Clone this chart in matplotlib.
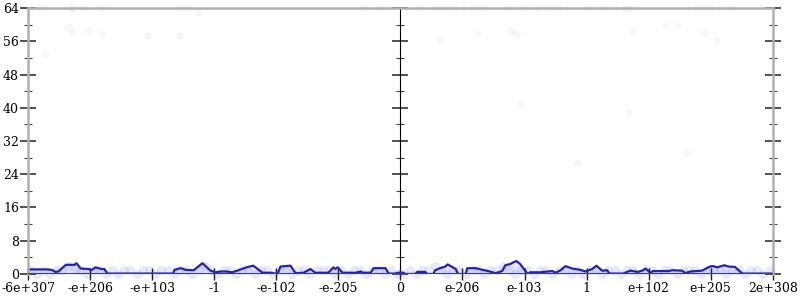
import matplotlib.pyplot as plt

plt.rcParams['font.family'] = ['DejaVu Serif']

# x positions are in "tick units": each labelled tick is one unit apart, 0 in the middle
tick_pos = [-6, -5, -4, -3, -2, -1, 0, 1, 2, 3, 4, 5, 6]
tick_labels = ['-6e+307', '-e+206', '-e+103', '-1', '-e-102', '-e-205', '0',
               'e-206', 'e-103', '1', 'e+102', 'e+205', '2e+308']

# smoothed count line (x in tick units, y in counts)
line_x = [-6.00, -5.67, -5.60, -5.56, -5.51, -5.39, -5.25, -5.22, -5.15, -5.02,
          -4.98, -4.91, -4.86, -4.83, -4.77, -4.72, -3.66, -3.64, -3.54, -3.46,
          -3.33, -3.19, -3.06, -2.98, -2.90, -2.80, -2.71, -2.61, -2.48, -2.37,
          -2.22, -2.09, -1.98, -1.93, -1.77, -1.69, -1.56, -1.45, -1.37, -1.16,
          -1.08, -1.05, -1.01, -0.93, -0.72, -0.64, -0.60, -0.48, -0.43, -0.24,
          -0.19, -0.08, -0.05, 0.05, 0.08, 0.24, 0.27, 0.40, 0.43, 0.53,
          0.56, 0.64, 0.72, 0.76, 0.81, 0.89, 0.93, 1.05, 1.08, 1.21,
          1.32, 1.42, 1.53, 1.64, 1.69, 1.77, 1.82, 1.87, 1.93, 2.05,
          2.09, 2.25, 2.30, 2.45, 2.50, 2.58, 2.66, 2.77, 2.90, 2.98,
          3.09, 3.16, 3.25, 3.33, 3.37, 3.59, 3.70, 3.83, 3.91, 3.95,
          4.03, 4.07, 4.32, 4.38, 4.54, 4.59, 4.67, 4.86, 4.91, 4.99,
          5.04, 5.10, 5.22, 5.28, 5.39, 5.51, 6.00]
line_y = [1.1, 1.1, 0.9, 0.5, 0.6, 2.2, 2.2, 2.6, 1.3, 1.2,
          0.9, 1.6, 1.4, 1.2, 1.2, 0.1, 0.1, 1.0, 1.4, 1.0,
          0.9, 2.6, 0.8, 0.4, 0.6, 0.6, 0.4, 0.9, 1.6, 2.0,
          0.3, 0.3, 0.0, 1.8, 2.0, 0.2, 0.3, 1.2, 0.3, 0.3,
          1.6, 1.2, 1.6, 0.3, 0.3, 0.6, 0.3, 0.3, 1.4, 1.4,
          0.1, 0.1, 0.3, 0.3, 0.0, 0.0, 0.5, 0.5, 0.0, 0.0,
          0.9, 1.4, 1.75, 2.3, 1.9, 1.2, 0.0, 0.0, 1.4, 1.4,
          1.0, 0.7, 0.2, 0.7, 2.1, 2.4, 2.8, 3.1, 2.4, 0.0,
          0.4, 0.4, 0.5, 0.7, 0.3, 0.9, 1.9, 1.3, 1.0, 0.6,
          1.2, 2.0, 0.8, 0.9, 0.1, 0.1, 0.8, 0.5, 0.9, 1.3,
          0.3, 0.7, 0.7, 0.9, 0.8, 0.2, 0.6, 0.8, 1.2, 1.8,
          1.9, 1.6, 2.1, 1.8, 1.7, 0.1, 0.1]

# faint sample points, upper part of the chart
top_x = [-5.80, -5.72, -5.35, -5.29, -5.31, -5.26, -5.14, -5.03, -4.83, -4.80,
         -3.56, -3.56, -3.42, -3.24, -0.60, -0.29, 0.32, 0.61, 0.77, 0.88,
         1.16, 1.34, 1.77, 1.98, 2.22, 2.37, 2.56, 3.05, 3.32, 3.60,
         3.70, 4.76, 5.00, 5.29, 0.63, 1.24, 1.79, 1.87, 3.74, 4.28,
         4.46, 4.89, 5.08, 1.95, 3.67, 2.85, 4.62, -4.06]
top_y = [64, 52.9, 59.4, 58.2, 64, 64, 64, 58.8, 64, 57.7,
         64, 57.2, 64, 63, 64, 64, 64, 64, 64, 64,
         64, 64, 64, 64, 64, 64, 64, 64, 64, 64,
         64, 64, 64, 64, 56.3, 57.7, 58.7, 57.7, 58.4, 59.6,
         59.6, 57.9, 56.3, 40.8, 38.9, 26.7, 29.0, 57.5]

# faint sample points, dense band near zero
band_x = [-5.95, -5.85, -5.75, -5.65, -5.55, -5.45, -5.35, -5.25, -5.15, -5.05,
          -4.95, -4.85, -4.75, -4.65, -4.55, -4.45, -4.35, -4.25, -4.15, -4.05,
          -3.95, -3.85, -3.75, -3.65, -3.55, -3.45, -3.35, -3.25, -3.15, -3.05,
          -2.95, -2.85, -2.75, -2.65, -2.55, -2.45, -2.35, -2.25, -2.15, -2.05,
          -1.95, -1.85, -1.75, -1.65, -1.55, -1.45, -1.35, -1.25, -1.15, -1.05,
          -0.95, -0.85, -0.75, -0.65, -0.55, -0.45, -0.35, -0.25, -0.15, -0.05,
          0.05, 0.15, 0.25, 0.35, 0.45, 0.55, 0.65, 0.75, 0.85, 0.95,
          1.05, 1.15, 1.25, 1.35, 1.45, 1.55, 1.65, 1.75, 1.85, 1.95,
          2.05, 2.15, 2.25, 2.35, 2.45, 2.55, 2.65, 2.75, 2.85, 2.95,
          3.05, 3.15, 3.25, 3.35, 3.45, 3.55, 3.65, 3.75, 3.85, 3.95,
          4.05, 4.15, 4.25, 4.35, 4.45, 4.55, 4.65, 4.75, 4.85, 4.95,
          5.05, 5.15, 5.25, 5.35, 5.45, 5.55, 5.65, 5.75, 5.85, 5.95]
band_y = [1, 0, 1, 0, 1, 1, 2, 1, 1, 0,
          1, 1, 0, 1, 0, 1, 1, 0, 1, 1,
          0, 1, 1, 0, 1, 1, 0, 1, 2, 1,
          0, 1, 1, 0, 1, 1, 0, 1, 1, 0,
          1, 1, 0, 1, 1, 0, 1, 1, 1, 0,
          1, 0, 1, 1, 0, 1, 1, 0, 1, 0,
          0, 1, 0, 1, 1, 2, 1, 0, 1, 1,
          0, 1, 1, 0, 1, 1, 2, 1, 0, 1,
          1, 0, 1, 1, 0, 1, 1, 0, 1, 0,
          1, 1, 0, 1, 1, 0, 1, 1, 0, 1,
          1, 0, 1, 1, 0, 1, 1, 1, 0, 1,
          1, 1, 0, 1, 1, 0, 1, 1, 0, 1]

fig = plt.figure(figsize=(8, 3), dpi=100)
ax = fig.add_axes([0.035, 0.0867, 0.931, 0.8866])

ax.scatter(band_x, band_y, s=45, color='#5060ea', alpha=0.13, linewidths=0, clip_on=False)
ax.scatter(top_x, top_y, s=30, color='#5060ea', alpha=0.05, linewidths=0, clip_on=False)
ax.fill_between(line_x, 0, line_y, color='#5a5ae6', alpha=0.15, linewidth=0)
ax.plot(line_x, line_y, color='#26269a', linewidth=1.6)
ax.axhline(0, color='#3434c8', linewidth=2.2, zorder=3)

ax.set_xlim(-6, 6)
ax.set_ylim(0, 64)
ax.set_xticks(tick_pos)
ax.set_xticklabels(tick_labels)
ax.set_yticks(range(0, 65, 8))
ax.set_yticks(range(4, 64, 8), minor=True)

for side in ['left', 'right', 'top']:
    ax.spines[side].set_color('#b0b0b0')
    ax.spines[side].set_linewidth(1.8)
ax.spines['bottom'].set_visible(False)

ax.tick_params(axis='y', which='major', direction='inout', length=11, width=1.1,
               color='#222222', labelsize=9, pad=1, right=True)
ax.tick_params(axis='y', which='minor', direction='inout', length=6, width=0.8,
               color='#444444', right=True)
ax.tick_params(axis='x', direction='inout', length=9, width=1.0, color='#222222',
               labelsize=9, pad=1)

# middle axis at x = 0
mid = ax.secondary_yaxis(0.5)
mid.spines['left'].set_color('#b0b0b0')
mid.spines['left'].set_linewidth(1.8)
mid.set_yticks(range(0, 65, 8))
mid.set_yticks(range(4, 64, 8), minor=True)
mid.yaxis.set_ticklabels([])
mid.tick_params(which='major', direction='inout', length=11, width=1.1,
                color='#222222', labelleft=False, labelright=False)
mid.tick_params(which='minor', direction='inout', length=6, width=0.8,
                color='#444444')

fig.savefig('out.png', dpi=100)
